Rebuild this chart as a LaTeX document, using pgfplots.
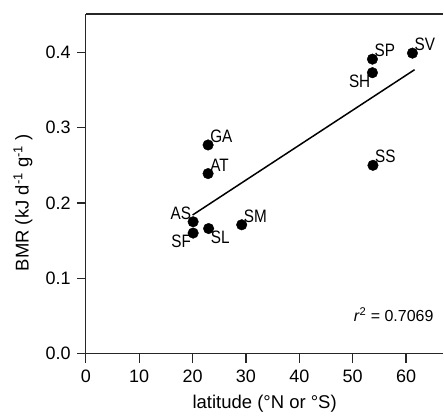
\documentclass[border=0pt]{standalone}
\usepackage{pgfplots}
\pgfplotsset{compat=1.18}
\usepackage{fontspec}
\setmainfont{Liberation Sans}
\newfontfamily\condfont{Liberation Sans}[FakeStretch=0.85]
\pgfplotsset{
  pts/.style={only marks, mark=*, mark size=5.3pt, black,
    point meta=explicit symbolic, nodes near coords,
    every node near coord/.append style={anchor=#1, inner sep=2pt, font=\condfont\fontsize{18}{20}\selectfont}},
}
\begin{document}
\begin{tikzpicture}
\begin{axis}[
  scale only axis,
  width=358pt, height=340pt,
  xmin=0, xmax=67, ymin=0, ymax=0.451,
  axis x line*=box, axis y line*=left,
  xtick pos=bottom, ytick pos=left,
  tick align=outside,
  major tick length=9pt,
  xtick={0,10,...,60},
  ytick={0,0.1,...,0.4},
  /pgf/number format/assume math mode=true,
  tick label style={font=\fontsize{18}{21}\selectfont, inner sep=2pt},
  xticklabel style={yshift=-5pt},
  yticklabel style={xshift=-4pt, /pgf/number format/.cd,fixed,fixed zerofill,precision=1},
  label style={font=\fontsize{18.5}{21}\selectfont},
  axis line style={line width=1.2pt, black!85},
  every tick/.style={line width=1.2pt, black!85},
  xlabel={latitude (°N or °S)},
  ylabel={BMR (kJ d\textsuperscript{-1} g\textsuperscript{-1} )},
  xlabel style={at={(axis description cs:0.5,0)}, anchor=north, yshift=-38pt},
  ylabel style={at={(axis description cs:0,0.5)}, anchor=south, xshift=-19pt, yshift=50pt},
  clip=false,
]
\addplot[black, line width=1.5pt] coordinates {(20.0,0.184) (61.6,0.377)};
\addplot[pts=south west] table[meta=lab] {
x y lab
61.2 0.399 SV
53.7 0.391 SP
22.9 0.277 GA
22.9 0.239 AT
53.8 0.250 SS
29.2 0.171 SM
};
\addplot[pts=north east] table[meta=lab] {
x y lab
53.7 0.373 SH
20.1 0.160 SF
};
\addplot[pts=south east] table[meta=lab] {
x y lab
20.1 0.175 AS
};
\addplot[pts=north west] table[meta=lab] {
x y lab
23.0 0.166 SL
};
\node[anchor=east, font=\fontsize{16}{19}\selectfont] at (axis cs:65.8,0.052) {\textit{r}\textsuperscript{2} = 0.7069};
\end{axis}
\path (current axis.south west) ++(-86pt,-57pt) rectangle ([yshift=14pt]current axis.north east);
\end{tikzpicture}
\end{document}
